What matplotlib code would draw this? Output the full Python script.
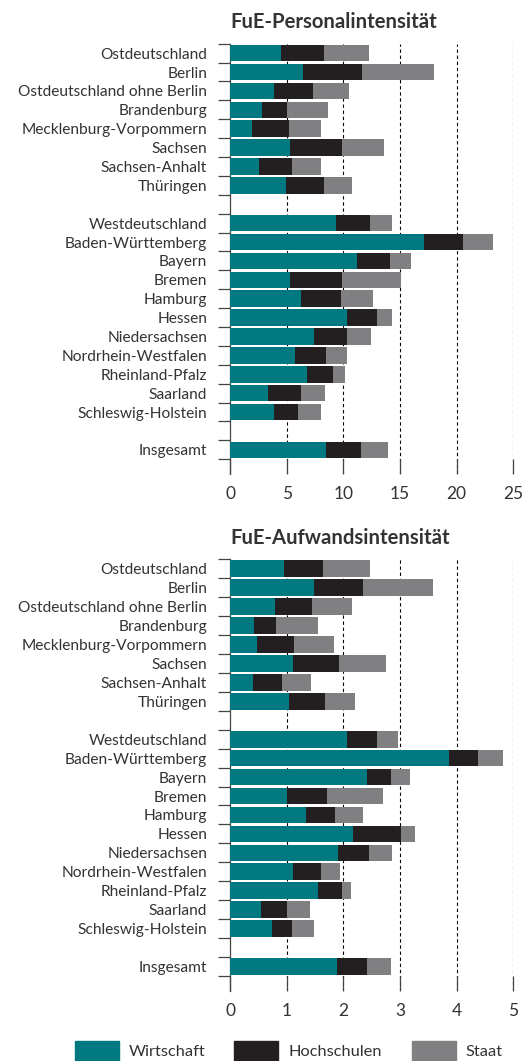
import numpy as np
import matplotlib
matplotlib.use('Agg')
import matplotlib.pyplot as plt
from matplotlib.patches import Rectangle

# region names (east block, west block, total)
east = ['Ostdeutschland', 'Berlin', 'Ostdeutschland ohne Berlin', 'Brandenburg',
        'Mecklenburg-Vorpommern', 'Sachsen', 'Sachsen-Anhalt', 'Thüringen']
west = ['Westdeutschland', 'Baden-Württemberg', 'Bayern', 'Bremen', 'Hamburg',
        'Hessen', 'Niedersachsen', 'Nordrhein-Westfalen', 'Rheinland-Pfalz',
        'Saarland', 'Schleswig-Holstein']
total = ['Insgesamt']
regions = east + west + total

sectors = ['Wirtschaft', 'Hochschulen', 'Staat']
colors = ['#007a80', '#231f20', '#808083']

# FuE-Personalintensität
pers_wirtschaft = [4.50, 6.41, 3.88, 2.85, 1.97, 5.29, 2.59, 4.94,
                   9.38, 17.12, 11.21, 5.29, 6.24, 10.32, 7.38, 5.74, 6.76, 3.38, 3.88,
                   8.50]
pers_hochschulen = [3.82, 5.24, 3.41, 2.18, 3.24, 4.62, 2.88, 3.38,
                    2.94, 3.47, 2.88, 4.62, 3.58, 2.62, 2.94, 2.76, 2.36, 2.86, 2.09,
                    3.06]
pers_staat = [3.92, 6.35, 3.21, 3.65, 2.85, 3.65, 2.53, 2.44,
              2.00, 2.62, 1.91, 5.21, 2.77, 1.38, 2.09, 1.82, 1.03, 2.17, 2.03,
              2.35]

# FuE-Aufwandsintensität
aufw_wirtschaft = [0.95, 1.49, 0.79, 0.43, 0.47, 1.11, 0.41, 1.04,
                   2.07, 3.86, 2.42, 1.01, 1.34, 2.17, 1.91, 1.11, 1.55, 0.55, 0.75,
                   1.89]
aufw_hochschulen = [0.69, 0.85, 0.65, 0.38, 0.66, 0.82, 0.51, 0.64,
                    0.52, 0.52, 0.42, 0.71, 0.51, 0.84, 0.54, 0.50, 0.42, 0.45, 0.35,
                    0.52]
aufw_staat = [0.83, 1.24, 0.71, 0.75, 0.71, 0.82, 0.51, 0.52,
              0.37, 0.44, 0.33, 0.98, 0.49, 0.25, 0.41, 0.34, 0.17, 0.42, 0.38,
              0.44]

plt.rcParams['font.family'] = ['Lato', 'DejaVu Sans']
txt_color = '#333333'

# row positions with an empty row between the blocks
pos = np.array(list(range(len(east))) +
               list(range(len(east) + 1, len(east) + 1 + len(west))) +
               [len(east) + len(west) + 2])
n_slots = pos[-1] + 1

W, H = 530, 1061
fig = plt.figure(figsize=(W / 100, H / 100), dpi=100)


def panel(rect, title, values, xmax, step):
    ax = fig.add_axes(rect)
    left = np.zeros(len(regions))
    for vals, c in zip(values, colors):
        ax.barh(pos, vals, left=left, height=0.88, color=c, zorder=3)
        left = left + np.array(vals)
    ax.set_xlim(0, xmax)
    ax.set_ylim(n_slots - 0.5 + 0.78, -0.5)
    ax.set_xticks(np.arange(0, xmax + step / 2, step))
    for x in np.arange(step, xmax + step / 2, step):
        ax.axvline(x, color='black', lw=0.8, ls=(0, (3, 2.5)), zorder=1)
    ax.tick_params(axis='x', direction='in', length=10.5, width=0.9,
                   color='#444444', pad=9, labelsize=12.5, labelcolor=txt_color)
    # boundary ticks on the y axis, labels on row centres
    ax.set_yticks(np.arange(-0.5, n_slots, 1.0))
    ax.set_yticklabels([])
    ax.tick_params(axis='y', which='major', direction='out', length=9,
                   width=0.9, color='#444444')
    ax.set_yticks(pos, minor=True)
    ax.set_yticklabels(regions, minor=True)
    ax.tick_params(axis='y', which='minor', length=0, pad=16.5,
                   labelsize=11.2, labelcolor=txt_color)
    for s in ['top', 'right', 'bottom']:
        ax.spines[s].set_visible(False)
    ax.spines['left'].set_linewidth(0.9)
    ax.spines['left'].set_color('#444444')
    ax.set_title(title, fontsize=14.6, fontweight='bold', color=txt_color,
                 loc='left', pad=11)
    return ax


ax1 = panel([230 / W, 1 - 474 / H, 283.3 / W, (474 - 43.7) / H],
            'FuE-Personalintensität',
            [pers_wirtschaft, pers_hochschulen, pers_staat], 25, 5)
ax2 = panel([230 / W, 1 - 990.7 / H, 283.3 / W, (990.7 - 559.3) / H],
            'FuE-Aufwandsintensität',
            [aufw_wirtschaft, aufw_hochschulen, aufw_staat], 5, 1)

# legend at the bottom
for px, tx, lab, c in zip([75, 234, 412], [129, 289, 466], sectors, colors):
    fig.add_artist(Rectangle((px / W, 0), 44 / W, 20 / H, color=c,
                             transform=fig.transFigure))
    fig.text(tx / W, 1 - 1052 / H, lab, fontsize=11.8, color=txt_color,
             va='center', ha='left')

fig.savefig('out.png', dpi=100)
